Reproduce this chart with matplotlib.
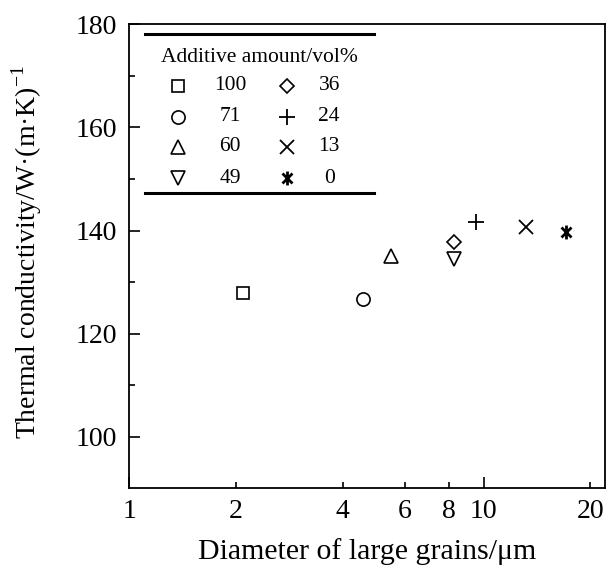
import matplotlib
matplotlib.use("Agg")
import matplotlib.pyplot as plt
from matplotlib.path import Path

plt.rcParams['font.family'] = ['Liberation Serif', 'DejaVu Serif']
plt.rcParams['mathtext.fontset'] = 'custom'
plt.rcParams['mathtext.rm'] = 'Liberation Serif'

# data
amounts = ['100', '71', '60', '49', '36', '24', '13', '0']
diameter = [2.10, 4.57, 5.49, 8.23, 8.23, 9.49, 13.2, 17.1]
conductivity = [127.9, 126.8, 135.0, 134.5, 137.8, 141.7, 140.7, 139.7]

# vertical bar + X
star = Path([(0, -1), (0, 1), (-0.72, -0.72), (0.72, 0.72), (-0.72, 0.72), (0.72, -0.72)],
            [Path.MOVETO, Path.LINETO, Path.MOVETO, Path.LINETO, Path.MOVETO, Path.LINETO])
markers = ['s', 'o', '^', 'v', 'D', '+', 'x', star]
sizes = [9, 9.5, 10, 10, 7.5, 11, 10, 10]
widths = [1.2, 1.2, 1.2, 1.2, 1.2, 1.3, 1.3, 2.0]

fig = plt.figure(figsize=(6.08, 5.73), dpi=100)
ax = fig.add_axes([0.2127, 0.1478, 0.7823, 0.8096])

for i in range(len(amounts)):
    ax.plot(diameter[i], conductivity[i], linestyle='none', marker=markers[i],
            markersize=sizes[i], markerfacecolor='none', markeredgecolor='black',
            markeredgewidth=widths[i], color='black')

ax.set_xscale('log')
ax.set_xlim(1, 22)
ax.set_ylim(90, 180)

# long ticks at 1 and 10, short labelled ones in between
ax.set_xticks([1, 10], labels=['1', '10'])
ax.set_xticks([2, 4, 6, 8, 20], labels=['2', '4', '6', '8', '20'], minor=True)
ax.set_yticks([100, 120, 140, 160, 180])
ax.set_yticks([110, 130, 150, 170], minor=True)
ax.tick_params(axis='both', which='both', direction='in', labelsize=20, width=1.2)
ax.tick_params(axis='x', which='major', length=8, pad=8)
ax.tick_params(axis='x', which='minor', length=4, pad=8)
ax.tick_params(axis='y', which='major', length=8, pad=9)
ax.tick_params(axis='y', which='minor', length=4)
for s in ax.spines.values():
    s.set_linewidth(1.3)

ax.set_xlabel('Diameter of large grains/\u03bcm', fontsize=21.5, labelpad=10)
ax.set_ylabel('Thermal conductivity/W\u00b7(m\u00b7K)$^{\\mathregular{-1}}$', fontsize=20)
ax.yaxis.set_label_coords(-0.179, 0.509)

# legend block drawn by hand
ax.plot([0.033, 0.514], [0.979, 0.979], transform=ax.transAxes, color='black', lw=2.2,
        clip_on=False)
ax.plot([0.033, 0.514], [0.636, 0.636], transform=ax.transAxes, color='black', lw=2.2,
        clip_on=False)
ax.text(0.2745, 0.9297, 'Additive amount/vol%', transform=ax.transAxes, fontsize=15.5,
        ha='center', va='center')
row_y = [0.8673, 0.8005, 0.7358, 0.6689]
for i in range(len(amounts)):
    col = i // 4
    yy = row_y[i % 4]
    mx = [0.1024, 0.3313][col]
    tx = [0.2118, 0.42][col]
    ax.plot(mx, yy, transform=ax.transAxes, linestyle='none', marker=markers[i],
            markersize=sizes[i], markerfacecolor='none', markeredgecolor='black',
            markeredgewidth=widths[i])
    ax.text(tx, yy, amounts[i], transform=ax.transAxes, fontsize=15.5, ha='center', va='center')

fig.savefig('out.png', dpi=100)
